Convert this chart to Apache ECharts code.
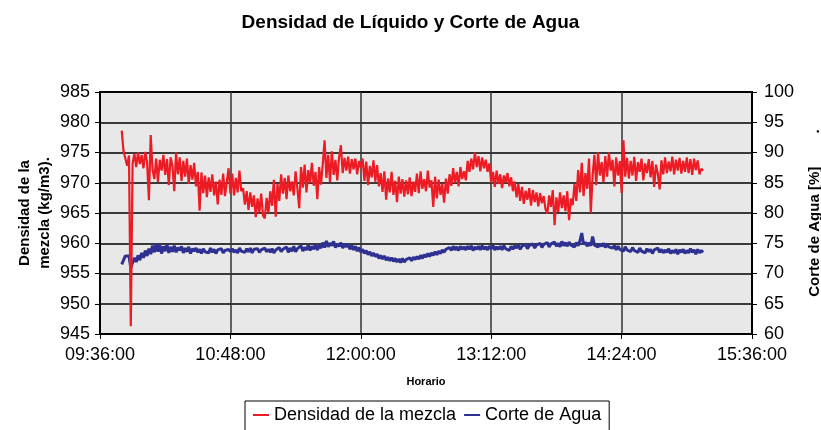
<!DOCTYPE html>
<html>
<head>
<meta charset="utf-8">
<script src="https://cdn.jsdelivr.net/npm/echarts@6/dist/echarts.min.js"></script>
<style>
  html, body { margin: 0; padding: 0; background: #fff; }
  #chart { width: 821px; height: 430px; }
</style>
</head>
<body>
<div id="chart"></div>
<script>
// minutes after midnight of the first sample, one sample per minute
const START_MIN = 588

const densidad = [
  978.6, 975.2, 974.0, 972.8, 974.5, 946.3, 973.2, 974.8, 972.6, 975.0,
  973.1, 974.6, 972.4, 975.1, 973.4, 967.1, 977.9, 972.2, 970.6, 974.0,
  970.1, 973.8, 972.0, 974.6, 971.3, 973.9, 969.6, 974.2, 972.8, 968.6,
  975.0, 971.4, 974.2, 970.3, 973.6, 971.0, 974.0, 969.8, 972.9, 970.5,
  973.3, 969.4, 971.8, 965.4, 971.7, 968.3, 971.2, 967.6, 970.9, 968.5,
  971.4, 967.9, 970.2, 966.4, 970.5, 968.0, 971.5, 967.8, 970.1, 972.4,
  968.2, 971.5, 967.9, 970.8, 968.4, 972.0, 968.6, 969.1, 966.4, 968.6,
  965.5, 968.4, 966.0, 967.9, 964.3, 967.4, 965.1, 968.2, 964.6, 964.1,
  967.5, 965.0, 968.6, 966.2, 970.5, 964.4, 969.8, 967.0, 971.4, 968.2,
  970.8, 967.3, 971.2, 968.6, 970.2, 967.9, 971.9, 969.0, 965.8, 972.6,
  969.2, 973.0, 968.4, 972.1, 970.0, 973.3, 969.5, 971.8, 967.3, 972.6,
  969.7, 973.1, 977.0, 970.8, 974.6, 970.1, 975.2, 971.3, 973.8, 970.4,
  974.2, 976.2, 971.6, 974.1, 972.0, 974.3, 971.5, 973.9, 972.2, 974.0,
  971.4, 973.6, 972.5, 974.0, 970.3, 973.5, 969.6, 972.8, 970.9, 973.7,
  970.2, 972.9, 969.4, 971.6, 968.5, 971.9, 967.2, 970.7, 968.4, 971.8,
  968.0, 970.3, 966.8, 971.0, 968.2, 970.6, 967.7, 970.4, 968.1, 970.9,
  967.8, 970.2, 968.5, 971.5, 968.3, 971.9, 969.0, 970.6, 968.6, 972.0,
  969.2, 970.4, 966.0, 971.0, 967.4, 970.5, 968.0, 969.8, 966.7, 970.7,
  968.2, 971.4, 969.5, 972.4, 970.0, 971.8, 969.4, 972.6, 970.6, 971.9,
  970.4, 973.6, 971.8, 974.0, 972.2, 975.0, 972.6, 974.4, 971.9, 974.2,
  972.4, 973.8, 971.8, 973.2, 970.0, 971.8, 969.3, 972.0, 969.8, 971.4,
  969.1, 971.2, 970.0, 971.6, 969.4, 970.9, 968.6, 970.2, 967.6, 969.8,
  967.0, 969.3, 966.5, 968.7, 967.2, 969.1, 966.2, 968.8, 966.8, 968.4,
  966.1, 968.3, 966.6, 967.8, 965.6, 964.9, 967.9, 966.0, 968.8, 963.0,
  967.6, 965.2, 968.4, 965.8, 967.9, 965.3, 968.6, 963.8, 967.4, 966.3,
  969.8, 967.0, 972.1, 968.4, 973.3, 967.8, 971.6, 969.0, 974.0, 965.0,
  971.3, 974.6, 969.6, 975.0, 971.2, 973.4, 970.1, 974.4, 971.0, 975.0,
  972.0, 973.8, 969.4, 974.2, 971.2, 973.6, 968.3, 977.0, 971.0, 974.1,
  970.7, 973.6, 971.2, 974.3, 970.3, 973.4, 971.8, 974.0, 970.4, 973.2,
  971.6, 973.9, 970.9, 973.6, 969.3, 973.0, 971.5, 968.9, 973.7, 971.4,
  974.2, 971.6, 973.5, 971.9, 974.3, 971.4, 973.8, 972.0, 974.1, 971.5,
  973.6, 971.8, 974.2, 971.6, 973.9, 971.3, 974.0, 972.1, 973.7, 971.4,
  972.3, 972.0
]

const corteAgua = [
  71.5, 71.5, 72.9, 72.9, 72.9, 70.9, 71.8, 72.6, 71.9, 73.0,
  72.2, 73.4, 72.6, 73.8, 72.9, 74.1, 73.2, 74.6, 73.5, 75.0,
  73.6, 74.7, 73.3, 74.5, 73.7, 74.8, 73.4, 74.4, 73.6, 74.6,
  73.5, 74.3, 73.8, 74.5, 73.4, 74.2, 73.6, 74.4, 73.3, 74.1,
  73.7, 74.2, 73.5, 74.0, 73.3, 74.1, 73.6, 73.9, 73.4, 74.2,
  73.5, 74.0, 73.3, 73.9, 73.6, 74.1, 73.4, 73.8, 73.5, 74.0,
  73.6, 74.1, 73.5, 73.9, 73.4, 74.2, 73.7, 74.0, 73.5, 74.1,
  73.6, 74.2, 73.4, 74.0, 73.7, 74.1, 73.5, 73.9, 73.6, 74.2,
  73.6, 74.0, 73.5, 74.1, 73.4, 73.9, 73.7, 74.3, 73.6, 74.0,
  73.8, 74.4, 73.5, 74.2, 73.7, 74.5, 73.6, 74.1, 73.8, 74.6,
  73.7, 74.3, 73.9, 74.7, 73.8, 74.5, 74.0, 74.8, 73.9, 74.6,
  74.2, 75.1, 74.3, 75.4, 74.4, 75.0, 74.6, 75.3, 74.3, 74.9,
  74.5, 75.1, 74.2, 74.8, 74.4, 74.9, 74.0, 74.6, 73.9, 74.5,
  73.7, 74.3, 73.5, 74.0, 73.3, 73.8, 73.1, 73.6, 72.9, 73.4,
  72.8, 73.2, 72.5, 73.0, 72.4, 72.9, 72.2, 72.7, 72.1, 72.6,
  72.0, 72.5, 71.9, 72.4, 71.8, 72.5, 71.9, 72.3, 72.0, 72.6,
  72.1, 72.7, 72.3, 72.8, 72.4, 73.0, 72.5, 73.1, 72.7, 73.3,
  72.8, 73.4, 73.0, 73.6, 73.1, 73.7, 73.3, 73.9, 73.5, 74.0,
  73.7, 74.3, 73.8, 74.5, 73.9, 74.4, 73.8, 74.5, 74.0, 74.4,
  73.9, 74.5, 74.0, 74.6, 73.8, 74.4, 74.0, 74.5, 73.9, 74.6,
  74.0, 74.4, 73.9, 74.5, 74.1, 74.6, 73.9, 74.4, 74.0, 74.5,
  73.9, 74.6, 74.1, 74.4, 73.8, 74.5, 74.0, 74.6, 74.2, 74.7,
  74.0, 74.5, 74.2, 74.8, 74.1, 74.6, 74.3, 74.9, 74.2, 74.7,
  74.4, 75.0, 74.3, 74.8, 74.5, 75.1, 74.4, 74.9, 74.6, 75.2,
  74.5, 75.0, 74.4, 75.3, 74.6, 75.1, 74.5, 75.2, 74.7, 75.0,
  74.4, 75.1, 74.6, 75.4, 76.7, 74.8, 75.2, 74.5, 75.1, 74.6,
  76.1, 74.7, 75.0, 74.4, 74.9, 74.5, 75.0, 74.3, 74.8, 74.4,
  74.7, 74.2, 74.6, 73.9, 74.5, 74.0, 74.3, 73.7, 74.4, 73.9,
  74.2, 73.6, 74.3, 73.8, 74.1, 73.5, 74.2, 73.7, 74.0, 73.4,
  74.1, 73.6, 74.0, 73.3, 73.9, 73.6, 74.2, 73.5, 74.0, 73.4,
  73.9, 73.5, 74.1, 73.3, 73.8, 73.4, 74.0, 73.2, 73.9, 73.5,
  74.0, 73.3, 73.8, 73.4, 74.1, 73.5, 73.9, 73.2, 74.0, 73.4,
  73.8, 73.5
]

const X_MIN = 576   // 09:36
const X_MAX = 936   // 15:36
const X_STEP = 72

const FONT = '"Liberation Sans", Arial, sans-serif'

function hhmmss(v) {
  const h = Math.floor(v / 60)
  const m = Math.round(v % 60)
  return String(h).padStart(2, '0') + ':' + String(m).padStart(2, '0') + ':00'
}

const chart = echarts.init(document.getElementById('chart'), null, { renderer: 'canvas' })

const option = {
  animation: false,
  backgroundColor: '#fff',
  textStyle: { fontFamily: FONT, color: '#000' },
  title: {
    text: 'Densidad de Líquido y Corte de Agua',
    left: 'center', top: 8,
    textStyle: { fontFamily: FONT, fontSize: 19, fontWeight: 'bold', color: '#000' },
  },
  legend: {
    data: ['Densidad de la mezcla', 'Corte de Agua'],
    left: 245, top: 401,
    icon: 'rect', itemWidth: 16, itemHeight: 2, itemGap: 8,
    padding: [5, 8, 8, 8],
    borderColor: '#000', borderWidth: 1,
    textStyle: { fontFamily: FONT, fontSize: 18, color: '#000' },
  },
  grid: {
    left: 100, right: 69, top: 92, bottom: 96,
    outerBoundsMode: 'none',
    show: true, backgroundColor: '#e8e8e8',
    borderColor: '#000', borderWidth: 2,
  },
  xAxis: {
    type: 'value', min: X_MIN, max: X_MAX, interval: X_STEP,
    name: 'Horario', nameLocation: 'middle', nameGap: 42,
    nameTextStyle: { fontFamily: FONT, fontSize: 11, fontWeight: 'bold', color: '#000' },
    axisLine: { lineStyle: { color: '#000', width: 2 } },
    axisTick: { show: true, length: 5, lineStyle: { color: '#000' } },
    axisLabel: { color: '#000', fontSize: 18, margin: 12, formatter: hhmmss },
    splitLine: { show: true, lineStyle: { color: '#333', width: 1.5 } },
  },
  yAxis: [
    {
      type: 'value', min: 945, max: 985, interval: 5,
      name: 'Densidad de la\nmezcla (kg/m3).', nameLocation: 'middle', nameGap: 45, nameRotate: 90,
      nameMoveOverlap: false,
      nameTextStyle: { fontFamily: FONT, fontSize: 15, fontWeight: 'bold', color: '#000', lineHeight: 20 },
      axisLine: { show: true, lineStyle: { color: '#000', width: 2 } },
      axisTick: { show: true, length: 5, lineStyle: { color: '#000' } },
      axisLabel: { color: '#000', fontSize: 18, margin: 10 },
      splitLine: { show: true, lineStyle: { color: '#000', width: 1.5 } },
    },
    {
      type: 'value', min: 60, max: 100, interval: 5, position: 'right',
      name: 'Corte de Agua [%]        .', nameLocation: 'middle', nameGap: 55, nameRotate: 90,
      nameTextStyle: { fontFamily: FONT, fontSize: 15, fontWeight: 'bold', color: '#000' },
      axisLine: { show: true, lineStyle: { color: '#000', width: 2 } },
      axisTick: { show: true, length: 5, lineStyle: { color: '#000' } },
      axisLabel: { color: '#000', fontSize: 18, margin: 12 },
      splitLine: { show: false },
    },
  ],
  series: [
    {
      name: 'Densidad de la mezcla', type: 'line', yAxisIndex: 0,
      data: densidad.map((v, i) => [START_MIN + i, v]),
      showSymbol: false, z: 3,
      lineStyle: { color: '#ed1c24', width: 2.2 },
      itemStyle: { color: '#ed1c24' },
    },
    {
      name: 'Corte de Agua', type: 'line', yAxisIndex: 1,
      data: corteAgua.map((v, i) => [START_MIN + i, v]),
      showSymbol: false, z: 2,
      lineStyle: { color: '#2e3192', width: 3 },
      itemStyle: { color: '#2e3192' },
    },
  ],
}

chart.setOption(option)
</script>
</body>
</html>
